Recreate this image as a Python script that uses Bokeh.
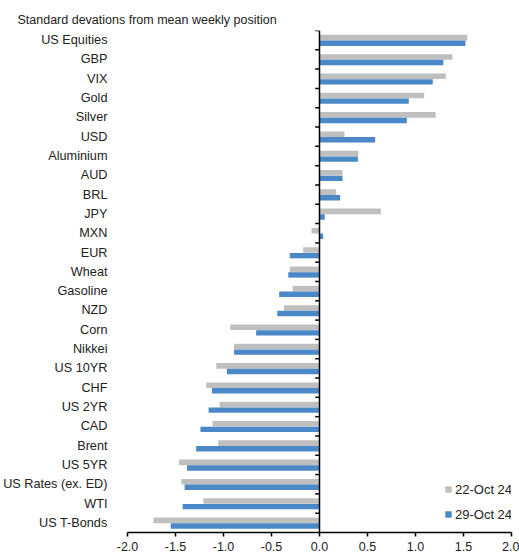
from bokeh.plotting import figure
from bokeh.models import FixedTicker, NumeralTickFormatter, ColumnDataSource, Span, Legend, LegendItem
from bokeh.embed import file_html
from bokeh.resources import INLINE

categories = ["US Equities", "GBP", "VIX", "Gold", "Silver", "USD", "Aluminium", "AUD", "BRL",
              "JPY", "MXN", "EUR", "Wheat", "Gasoline", "NZD", "Corn", "Nikkei", "US 10YR", "CHF",
              "US 2YR", "CAD", "Brent", "US 5YR", "US Rates (ex. ED)", "WTI", "US T-Bonds"]
oct22 = [1.54, 1.385, 1.315, 1.09, 1.21, 0.26, 0.405, 0.24, 0.17, 0.64, -0.083, -0.17, -0.31,
         -0.28, -0.37, -0.93, -0.89, -1.075, -1.18, -1.04, -1.115, -1.055, -1.465, -1.44, -1.21, -1.73]
oct29 = [1.52, 1.29, 1.18, 0.93, 0.91, 0.58, 0.40, 0.24, 0.215, 0.055, 0.038, -0.31, -0.325,
         -0.42, -0.44, -0.66, -0.89, -0.965, -1.12, -1.155, -1.24, -1.285, -1.38, -1.405, -1.425, -1.55]
series_labels = ["22-Oct 24", "29-Oct 24"]
x_ticks = [-2.0, -1.5, -1.0, -0.5, 0.0, 0.5, 1.0, 1.5, 2.0]
title_text = "Standard devations from mean weekly position"

n = len(categories)
ypos = [n - i - 0.5 for i in range(n)]

FONT = "Liberation Sans"
GREY = "#BFBFBF"
BLUE = "#4A88C7"

p = figure(width=519, height=559, x_range=(-2, 2), y_range=(0, n),
           output_backend="svg", toolbar_location=None,
           min_border_left=126, min_border_right=8, min_border_top=30, min_border_bottom=27)
p.title.text = title_text
p.title.align = "left"
p.title.offset = -110
p.title.text_font = FONT
p.title.text_font_size = "12.5px"
p.title.text_font_style = "normal"
p.title.text_color = "#222222"
p.title.standoff = 8

p.outline_line_color = None
p.xgrid.visible = False
p.ygrid.visible = False
p.background_fill_color = "white"
p.border_fill_color = "white"

src = ColumnDataSource(dict(y=ypos, a=oct22, b=oct29,
                            ya=[v + 0.13 for v in ypos], yb=[v - 0.16 for v in ypos]))
r1 = p.hbar(y="ya", right="a", left=0, height=0.29, source=src, fill_color=GREY, line_color=None)
r2 = p.hbar(y="yb", right="b", left=0, height=0.28, source=src, fill_color=BLUE, line_color=None)

# zero axis line with tick marks at category boundaries
p.add_layout(Span(location=0, dimension="height", line_color="black", line_width=1.5))
bounds = list(range(1, n + 1))
p.segment(x0=[-0.045] * len(bounds), x1=[0] * len(bounds), y0=bounds, y1=bounds,
          line_color="black", line_width=1.5)

# x axis
p.xaxis.ticker = FixedTicker(ticks=x_ticks)
p.xaxis.formatter = NumeralTickFormatter(format="0.0")
p.xaxis.minor_tick_line_color = None
p.xaxis.major_tick_in = 0
p.xaxis.major_tick_out = 4
p.xaxis.axis_line_width = 1.5
p.xaxis.major_tick_line_width = 1.5
p.xaxis.axis_line_color = "black"
p.xaxis.major_label_text_font = FONT
p.xaxis.major_label_text_font_size = "12.5px"
p.xaxis.major_label_text_color = "#222222"
p.xaxis.major_label_standoff = 5

# y axis (category labels)
p.yaxis.ticker = FixedTicker(ticks=ypos)
p.yaxis.major_label_overrides = {v: c for v, c in zip(ypos, categories)}
p.yaxis.axis_line_color = None
p.yaxis.major_tick_line_color = None
p.yaxis.minor_tick_line_color = None
p.yaxis.major_label_standoff = 14
p.yaxis.major_label_text_font = FONT
p.yaxis.major_label_text_font_size = "12.7px"
p.yaxis.major_label_text_color = "#222222"

legend = Legend(items=[LegendItem(label=series_labels[0], renderers=[r1]),
                       LegendItem(label=series_labels[1], renderers=[r2])],
                location=(317, 8))
legend.border_line_color = None
legend.background_fill_alpha = 0
legend.glyph_width = 8
legend.glyph_height = 8
legend.label_height = 20
legend.spacing = 5
legend.padding = 0
legend.margin = 0
legend.label_standoff = 3
legend.label_text_font = FONT
legend.label_text_font_size = "13px"
legend.label_text_color = "#222222"
p.add_layout(legend)

open("out.html", "w").write(file_html(p, INLINE))
